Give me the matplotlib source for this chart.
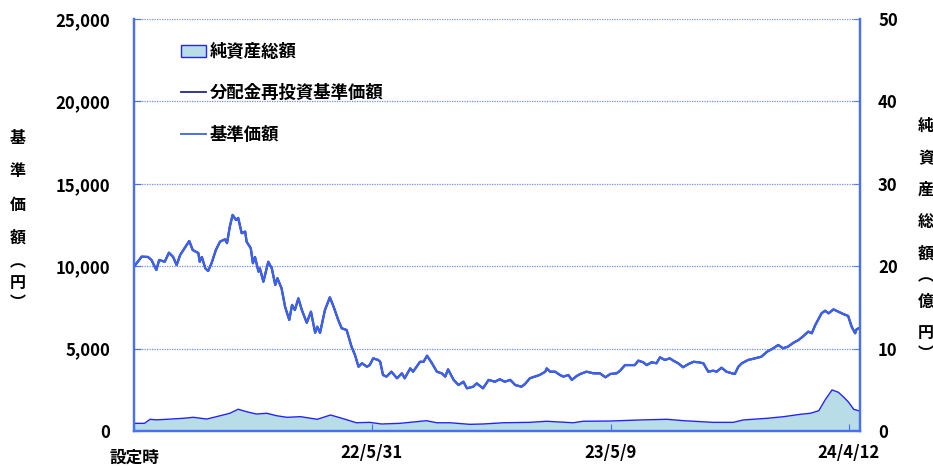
import matplotlib
matplotlib.use('Agg')
import matplotlib.pyplot as plt
import matplotlib.transforms as mtransforms
from matplotlib.patches import Patch
from matplotlib.lines import Line2D

plt.rcParams['font.family'] = ['Noto Sans CJK JP', 'DejaVu Sans']

# days since fund start
price_days = [0, 11, 20, 25, 32, 36, 44, 50, 56, 61, 66, 70, 79, 84, 92, 94, 97, 102, 106, 111,
              117, 123, 130, 133, 137, 141, 146, 149, 154, 159, 161, 167, 170, 173, 178, 180, 185,
              192, 197, 202, 205, 211, 216, 222, 226, 230, 235, 240, 247, 253, 259, 262, 266, 273,
              280, 285, 292, 297, 304, 311, 316, 321, 326, 333, 337, 342, 349, 352, 356, 361, 368,
              376, 383, 387, 395, 399, 409, 414, 419, 426, 433, 440, 445, 449, 457, 464, 471, 476,
              485, 490, 499, 507, 516, 523, 530, 538, 545, 554, 559, 566, 573, 580, 588, 590, 595,
              602, 609, 614, 621, 626, 633, 638, 647, 657, 666, 674, 681, 690, 695, 702, 709, 716,
              721, 728, 733, 740, 747, 752, 759, 766, 771, 778, 785, 793, 800, 807, 814, 821, 828,
              833, 840, 847, 855, 859, 864, 869, 878, 888, 897, 905, 914, 921, 928, 935, 943, 950,
              957, 964, 969, 974, 978, 983, 988, 993, 1000, 1007, 1014, 1021, 1026, 1031, 1033, 1038]
price = [9970, 10580, 10560, 10380, 9770, 10380, 10270, 10820, 10560, 10070, 10680, 10940, 11530,
         10980, 10800, 10270, 10560, 9870, 9710, 10190, 10980, 11490, 11630, 11400, 12400, 13110,
         12800, 12930, 12000, 12100, 11490, 11090, 10180, 10560, 9670, 9870, 9060, 10270, 9870,
         8860, 9270, 8660, 7540, 6740, 7650, 7340, 8050, 7340, 6570, 7240, 5960, 6330, 5960, 7340,
         8110, 7590, 6740, 6230, 6130, 5120, 4610, 3900, 4110, 3900, 4000, 4410, 4310, 4200, 3400,
         3300, 3600, 3200, 3500, 3200, 3800, 3600, 4200, 4200, 4570, 4110, 3600, 3500, 3300, 3740,
         3100, 2790, 2990, 2590, 2690, 2890, 2590, 3100, 2990, 3140, 2990, 3100, 2790, 2690, 2850,
         3200, 3300, 3400, 3600, 3800, 3600, 3600, 3400, 3300, 3400, 3100, 3340, 3460, 3600, 3500,
         3500, 3260, 3460, 3500, 3660, 4000, 4000, 4000, 4270, 4170, 4000, 4170, 4110, 4470, 4310,
         4410, 4270, 4110, 3870, 4070, 4200, 4170, 4110, 3600, 3660, 3600, 3840, 3600, 3500, 3460,
         3900, 4110, 4310, 4410, 4510, 4810, 5020, 5220, 5020, 5120, 5360, 5520, 5760, 6030, 5930,
         6430, 6740, 7140, 7300, 7140, 7380, 7240, 7100, 6980, 6330, 5930, 6170, 6270]

nav_days = [0, 15, 23, 32, 47, 70, 85, 104, 118, 137, 149, 161, 175, 190, 204, 219, 238, 262, 281,
            295, 318, 337, 354, 380, 404, 418, 433, 452, 480, 499, 528, 566, 590, 628, 642, 681,
            724, 762, 786, 828, 857, 871, 905, 929, 953, 967, 979, 988, 998, 1007, 1014, 1021,
            1029, 1036, 1038]
nav = [0.93, 0.93, 1.42, 1.35, 1.42, 1.54, 1.66, 1.45, 1.74, 2.15, 2.64, 2.34, 2.06, 2.15, 1.85,
       1.66, 1.74, 1.42, 1.94, 1.6, 1.0, 1.05, 0.85, 0.93, 1.13, 1.25, 1.0, 1.0, 0.81, 0.85, 1.0,
       1.05, 1.18, 1.0, 1.18, 1.21, 1.34, 1.42, 1.25, 1.05, 1.05, 1.34, 1.54, 1.74, 2.03, 2.15,
       2.46, 3.76, 4.98, 4.70, 4.16, 3.56, 2.63, 2.46, 2.46]

tick_days = [0, 340, 682, 1022]
tick_labels = ['設定時', '22/5/31', '23/5/9', '24/4/12']

left_label = ['基', '準', '価', '額', '︵', '円', '︶']
right_label = ['純', '資', '産', '総', '額', '︵', '億', '円', '︶']

spine_c = '#4a6ff0'
grid_c = '#6f8ff0'

fig = plt.figure(figsize=(9.33, 4.66), dpi=100)
ax = fig.add_axes([0.1436, 0.0751, 0.7782, 0.8841])
ax2 = ax.twinx()

# net assets area (right axis)
ax2.fill_between(nav_days, nav, 0, color='#b8dde6', lw=0)
ax2.plot(nav_days, nav, color='#2323ff', lw=1.0)
ax2.set_ylim(0, 50)
ax2.set_yticks(range(0, 51, 10))

# price lines on top
ax.set_zorder(ax2.get_zorder() + 1)
ax.patch.set_visible(False)
ax.plot(price_days, price, color='#23239a', lw=1.6)
ax.plot(price_days, price, color='#3d62ea', lw=1.6)
ax.set_ylim(0, 25000)
ax.set_xlim(0, 1038)
ax.set_yticks(range(0, 25001, 5000))
ax.set_yticklabels([f'{v:,}' for v in range(0, 25001, 5000)])
ax.set_xticks(tick_days)
ax.set_xticklabels(tick_labels)
ax.grid(axis='y', color=grid_c, ls=(0, (1, 1)), lw=0.9)

for a in (ax, ax2):
    for s in a.spines.values():
        s.set_color(spine_c)
        s.set_linewidth(1.6)
    a.spines['top'].set_visible(False)

ax.tick_params(axis='y', direction='in', length=5, color=spine_c, pad=17, labelsize=12)
ax.tick_params(axis='x', direction='in', length=5, color=spine_c, pad=9, labelsize=12)
ax2.tick_params(axis='y', direction='in', length=5, color=spine_c, pad=13, labelsize=12)
for t in ax.get_xticklabels() + ax.get_yticklabels() + ax2.get_yticklabels():
    t.set_fontweight('bold')

# 設定時 sits a little lower than the date labels
first = ax.get_xticklabels()[0]
first.set_transform(first.get_transform() + mtransforms.ScaledTranslation(0, -5 / 100, fig.dpi_scale_trans))

# stacked vertical axis titles
left_y = [138, 171, 205, 238, 262, 283, 303]
for ch, y in zip(left_label, left_y):
    fig.text(18 / 933, 1 - y / 466, ch, ha='center', va='center', fontsize=11.5, fontweight='bold')
right_y = [126, 158, 190, 222, 254, 276, 302, 333, 354]
for ch, y in zip(right_label, right_y):
    fig.text(926 / 933, 1 - y / 466, ch, ha='center', va='center', fontsize=11.5, fontweight='bold')

handles = [Patch(facecolor='#b8dde6', edgecolor='#2323ff', lw=1.0),
           Line2D([], [], color='#23239a', lw=1.3),
           Line2D([], [], color='#3d62ea', lw=1.3)]
labels = ['純資産総額', '分配金再投資基準価額', '基準価額']
leg = ax.legend(handles, labels, loc='upper left', bbox_to_anchor=(181 / 933, 1 - 43 / 466),
                bbox_transform=fig.transFigure, frameon=False, borderpad=0, borderaxespad=0,
                handlelength=1.45, handletextpad=0.2, labelspacing=1.35,
                prop={'size': 12.5, 'weight': 'bold'})

fig.savefig('out.png', dpi=100)
